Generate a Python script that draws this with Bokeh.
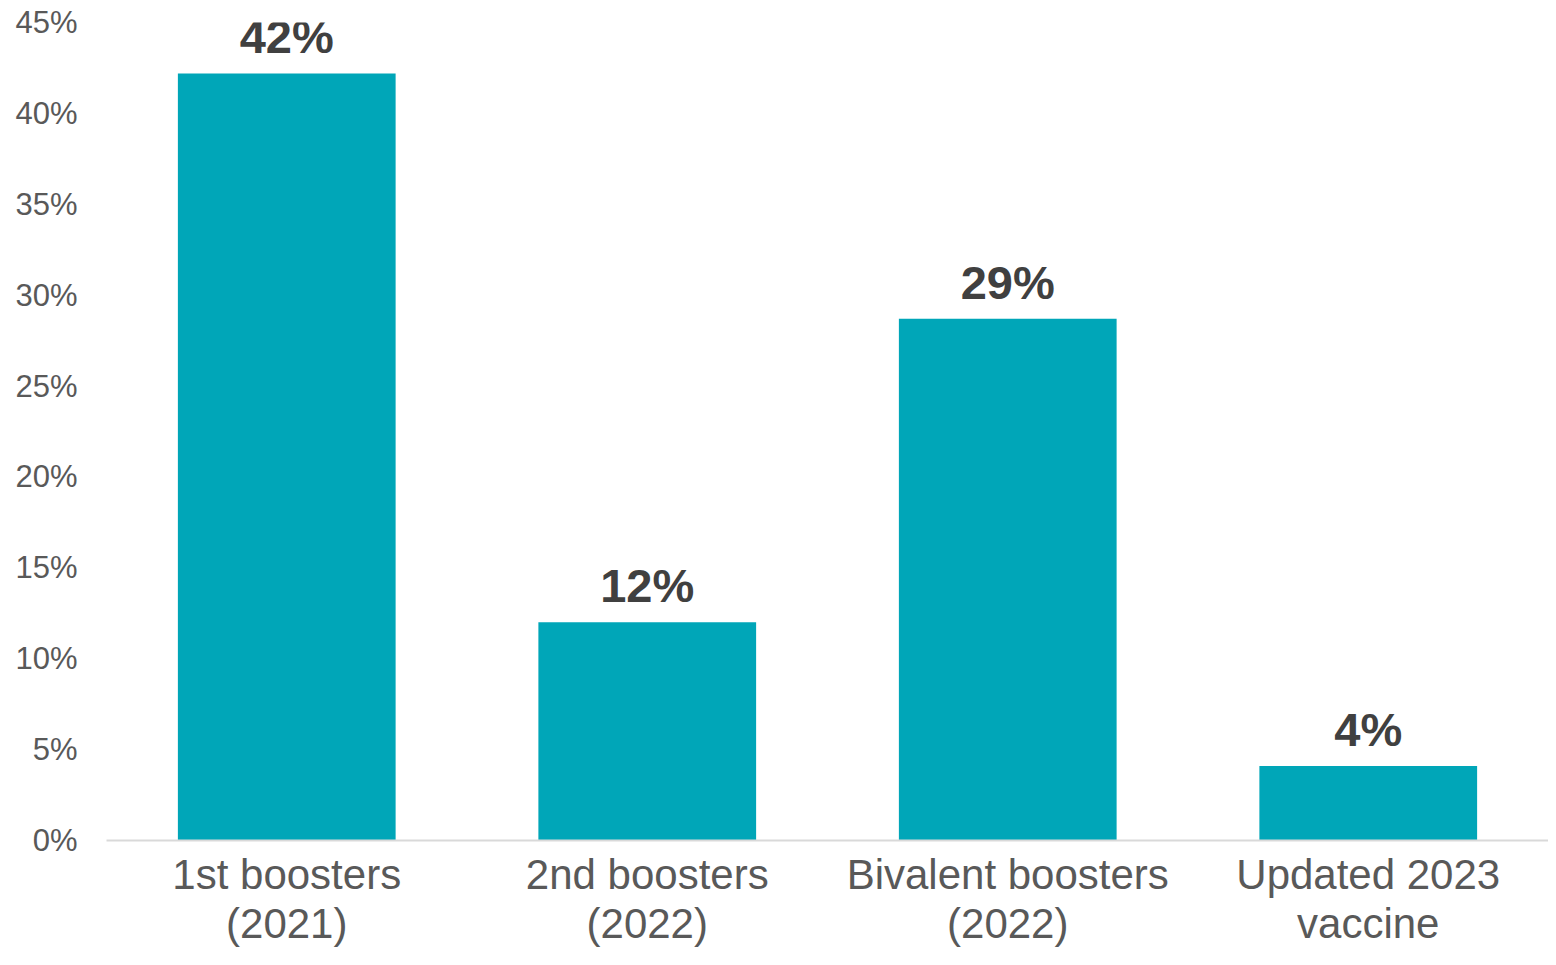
from bokeh.plotting import figure
from bokeh.models import ColumnDataSource, FactorRange, Range1d, FixedTicker, LabelSet
from bokeh.core.properties import value
from bokeh.embed import file_html
from bokeh.resources import INLINE

# Data
categories = ["1st boosters\n(2021)", "2nd boosters\n(2022)",
              "Bivalent boosters\n(2022)", "Updated 2023\nvaccine"]
shares = [42.2, 12.0, 28.7, 4.1]
bar_labels = ["42%", "12%", "29%", "4%"]
y_ticks = [0, 5, 10, 15, 20, 25, 30, 35, 40, 45]
y_tick_labels = ["0%", "5%", "10%", "15%", "20%", "25%", "30%", "35%", "40%", "45%"]

source = ColumnDataSource(dict(cat=categories, share=shares, label=bar_labels))

FONT = "Liberation Sans"

p = figure(width=1548, height=949, x_range=FactorRange(*categories),
           y_range=Range1d(0, 45), output_backend="svg", toolbar_location=None,
           min_border_left=106, min_border_right=0, min_border_top=22,
           min_border_bottom=100)

p.vbar(x="cat", top="share", width=0.604, source=source,
       fill_color="#00A6B8", line_color=None)

labels = LabelSet(x="cat", y="share", text="label", source=source,
                  y_offset=20, text_align="center", text_baseline="alphabetic",
                  text_font=value(FONT), text_font_size=value("47px"),
                  text_font_style="bold", text_color="#404040")
p.add_layout(labels)

p.outline_line_color = None
p.xgrid.grid_line_color = None
p.ygrid.grid_line_color = None
p.background_fill_color = "white"
p.border_fill_color = "white"

# y axis
p.yaxis.ticker = FixedTicker(ticks=y_ticks)
p.yaxis.major_label_overrides = {t: l for t, l in zip(y_ticks, y_tick_labels)}
p.yaxis.axis_line_color = None
p.yaxis.major_tick_line_color = None
p.yaxis.minor_tick_line_color = None
p.yaxis.major_tick_out = 0
p.yaxis.major_tick_in = 0
p.yaxis.major_label_standoff = 29
p.yaxis.major_label_text_font = FONT
p.yaxis.major_label_text_font_size = "31px"
p.yaxis.major_label_text_color = "#595959"

# x axis
p.xaxis.axis_line_color = "#D9D9D9"
p.xaxis.axis_line_width = 2
p.xaxis.major_tick_line_color = None
p.xaxis.minor_tick_line_color = None
p.xaxis.major_tick_out = 0
p.xaxis.major_tick_in = 0
p.xaxis.major_label_standoff = 10
p.xaxis.major_label_text_font = FONT
p.xaxis.major_label_text_font_size = "42px"
p.xaxis.major_label_text_color = "#595959"
p.xaxis.major_label_text_line_height = 1.05

open("out.html", "w").write(file_html(p, INLINE))
